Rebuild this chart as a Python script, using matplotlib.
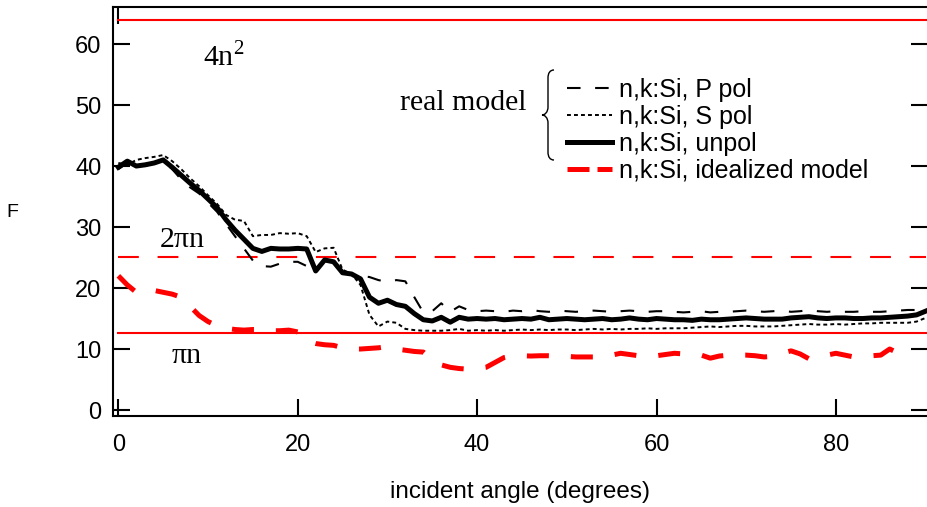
import numpy as np
import matplotlib
matplotlib.use("Agg")
import matplotlib.pyplot as plt
from matplotlib.path import Path
from matplotlib.patches import PathPatch
from matplotlib.lines import Line2D

# ---------------- data ----------------
angle = list(range(0, 91))

unpol = [39.8, 40.8, 40.0, 40.2, 40.5, 41.0, 39.8, 38.5, 37.2, 36.0,
         34.6, 33.2, 31.2, 29.5, 28.0, 26.5, 26.0, 26.5, 26.4, 26.4,
         26.5, 26.4, 22.8, 24.6, 24.3, 22.5, 22.3, 21.5, 18.5, 17.5,
         18.0, 17.3, 17.0, 15.8, 14.8, 14.6, 15.2, 14.4, 15.2, 14.9,
         15.0, 14.9, 15.0, 14.8, 14.9, 15.0, 14.9, 15.2, 14.8, 14.9,
         15.0, 14.9, 14.8, 14.9, 15.0, 14.8, 14.9, 15.1, 14.9, 14.8,
         15.0, 14.9, 14.8, 14.8, 14.7, 14.9, 14.8, 14.8, 14.9, 15.0,
         15.1, 15.0, 14.9, 14.9, 14.9, 15.1, 15.2, 15.3, 15.1, 15.0,
         15.1, 15.1, 15.0, 15.0, 15.1, 15.1, 15.2, 15.3, 15.4, 15.6,
         16.2]

p_pol = [39.5, 40.5, 40.3, 40.0, 40.5, 40.8, 39.5, 37.8, 36.5, 35.5,
         34.0, 32.5, 30.5, 28.5, 26.5, 24.5, 23.6, 23.5, 24.0, 24.3,
         24.3, 23.6, 23.0, 24.5, 24.0, 22.6, 22.3, 22.0, 21.8, 21.3,
         21.0, 21.3, 21.1, 18.5, 16.0, 16.2, 17.5, 16.1, 17.0, 16.4,
         16.2, 16.3, 16.2, 16.1, 16.3, 16.2, 16.4, 16.2, 16.1, 16.3,
         16.2, 16.1, 16.2, 16.3, 16.2, 16.1, 16.2, 16.3, 16.2, 16.1,
         16.2, 16.2, 16.1, 16.0, 16.1, 16.2, 16.0, 16.1, 16.1, 16.2,
         16.3, 16.2, 16.1, 16.2, 16.3, 16.1, 16.2, 16.4, 16.2, 16.1,
         16.2, 16.1, 16.1, 16.2, 16.1, 16.1, 16.2, 16.3, 16.4, 16.4,
         16.5]

s_pol = [40.5, 40.2, 41.0, 41.3, 41.5, 41.8, 40.8, 39.5, 38.0, 36.7,
         35.2, 33.8, 32.0, 31.2, 31.0, 28.5, 28.7, 28.7, 29.0, 28.9,
         29.0, 28.5, 25.9, 26.5, 26.6, 23.0, 22.3, 20.5, 15.6, 13.7,
         14.5, 14.3, 13.3, 13.1, 13.0, 13.0, 13.0, 13.1, 13.3, 13.0,
         13.1, 13.0, 13.1, 13.0, 13.1, 13.2, 13.1, 13.2, 13.1, 13.2,
         13.2, 13.1, 13.2, 13.3, 13.2, 13.3, 13.2, 13.3, 13.3, 13.4,
         13.3, 13.4, 13.4, 13.4, 13.5, 13.6, 13.7, 13.6, 13.7, 13.8,
         13.8, 13.7, 13.7, 13.7, 13.8, 13.9, 14.0, 14.1, 14.0, 14.0,
         14.1, 14.0, 14.1, 14.2, 14.2, 14.3, 14.3, 14.3, 14.3, 14.5,
         15.1]

ideal_angle = list(range(0, 89))
ideal = [22.0, 20.5, 19.3, 19.5, 19.6, 19.3, 19.0, 18.5, 17.0, 15.5,
         14.5, 13.8, 13.4, 13.2, 13.1, 13.2, 13.2, 13.0, 13.0, 13.1,
         12.8, 11.3, 10.9, 10.7, 10.6, 10.2, 10.0, 10.0, 10.1, 10.2,
         10.4, 10.0, 9.8, 9.6, 9.5, 8.2, 7.4, 7.0, 6.8, 6.7,
         6.8, 7.0, 7.8, 8.6, 8.9, 8.9, 8.85, 8.9, 8.9, 8.85,
         8.8, 8.7, 8.7, 8.7, 8.7, 9.0, 9.3, 9.1, 8.9, 8.85,
         8.9, 9.1, 9.3, 9.2, 9.0, 9.0, 8.5, 8.85, 9.0, 9.0,
         9.0, 8.9, 8.7, 8.8, 9.3, 9.7, 9.2, 8.4, 8.6, 9.0,
         9.3, 9.0, 8.7, 8.8, 8.9, 9.0, 10.0, 9.3, 9.0]

n_index = 4.0
ref_levels = [4 * n_index ** 2, 2 * np.pi * n_index, np.pi * n_index]
ref_labels = ["4n$^2$", "2\u03c0n", "\u03c0n"]

x_ticks = [0, 20, 40, 60, 80]
y_ticks = [0, 10, 20, 30, 40, 50, 60]

legend_labels = ["n,k:Si, P pol", "n,k:Si, S pol", "n,k:Si, unpol",
                 "n,k:Si, idealized model"]

# ---------------- figure ----------------
W, H = 928, 507
fig = plt.figure(figsize=(W / 100, H / 100), dpi=100)
L, R, B, T = 112.7, 928, 416, 7
ax = fig.add_axes([L / W, 1 - B / H, (R - L) / W, (B - T) / H])
ax.set_xlim(-0.63, 90.27)
ax.set_ylim(-0.98, 66.07)

sans = "Liberation Sans"
serif = "Liberation Serif"
red = "#ff0000"
plt.rcParams["mathtext.fontset"] = "custom"
plt.rcParams["mathtext.rm"] = serif

# reference levels
ax.plot([0, 90], [ref_levels[0]] * 2, color=red, lw=1.5)
ax.plot([0, 90], [ref_levels[1]] * 2, color=red, lw=1.5, dashes=(10, 9))
ax.plot([0, 90], [ref_levels[2]] * 2, color=red, lw=1.5)

# curves
ax.plot(angle, p_pol, color="black", lw=1.5, dashes=(6.5, 7))
ax.plot(angle, s_pol, color="black", lw=1.4, dashes=(2, 1.6))
ax.plot(angle, unpol, color="black", lw=3.6, solid_joinstyle="round")
ax.plot(ideal_angle, ideal, color=red, lw=3.6, dashes=(4.4, 4.4))

# annotations
ax.text(11.8, 57.9, "4n$^{\\mathrm{2}}$", fontsize=21.5, family=serif,
        ha="center", va="center")
ax.text(7.1, 27.9, ref_labels[1], fontsize=21.5, family=serif, ha="center", va="center")
ax.text(7.6, 8.85, ref_labels[2], fontsize=21.5, family=serif, ha="center", va="center")
fig.text(463 / W, 1 - 103 / H, "real model", fontsize=21.5, family=serif,
         ha="center", va="center")

# brace
pts = [(554, 70), (550, 70), (548, 73), (548, 78),
       (548, 107),
       (548, 112), (545, 115), (542, 115),
       (545, 115), (548, 118), (548, 123),
       (548, 152),
       (548, 157), (550, 160), (554, 160)]
codes = [Path.MOVETO, Path.CURVE4, Path.CURVE4, Path.CURVE4,
         Path.LINETO,
         Path.CURVE4, Path.CURVE4, Path.CURVE4,
         Path.CURVE4, Path.CURVE4, Path.CURVE4,
         Path.LINETO,
         Path.CURVE4, Path.CURVE4, Path.CURVE4]
verts = [(x / W, 1 - y / H) for x, y in pts]
fig.add_artist(PathPatch(Path(verts, codes), transform=fig.transFigure,
                         fill=False, lw=1.0, color="black"))

# legend
h_p = Line2D([], [], color="black", lw=1.5, dashes=(6.5, 7))
h_s = Line2D([], [], color="black", lw=1.4, dashes=(2, 1.6))
h_u = Line2D([], [], color="black", lw=3.6)
h_i = Line2D([], [], color=red, lw=3.6, dashes=(4.4, 1.6))
fig.legend([h_p, h_s, h_u, h_i], legend_labels, loc="upper left",
           bbox_to_anchor=(567 / W, 1 - 78 / H), frameon=False,
           prop={"family": sans, "size": 18}, handlelength=1.8,
           handletextpad=0.28, labelspacing=0.11, borderpad=0,
           borderaxespad=0)

# axes styling
for s in ["left", "bottom", "top"]:
    ax.spines[s].set_linewidth(1.5)
ax.spines["right"].set_visible(False)
ax.set_xticks(x_ticks)
ax.set_yticks(y_ticks)
ax.tick_params(direction="in", length=12, width=1.5, right=True,
               labelsize=17)
ax.tick_params(axis="x", pad=13)
ax.tick_params(axis="y", pad=8)
for lab in ax.get_xticklabels() + ax.get_yticklabels():
    lab.set_family(sans)
sec = ax.secondary_xaxis("top")
sec.set_xticks([0])
sec.tick_params(direction="in", length=12, width=1.5, labeltop=False)
sec.spines["top"].set_visible(False)

ax.set_xlabel("incident angle (degrees)", fontsize=17.5, family=sans, labelpad=18)
fig.text(12 / W, 1 - 213 / H, "F", fontsize=14, family=sans, ha="center", va="center")

fig.savefig("out.png", dpi=100)
